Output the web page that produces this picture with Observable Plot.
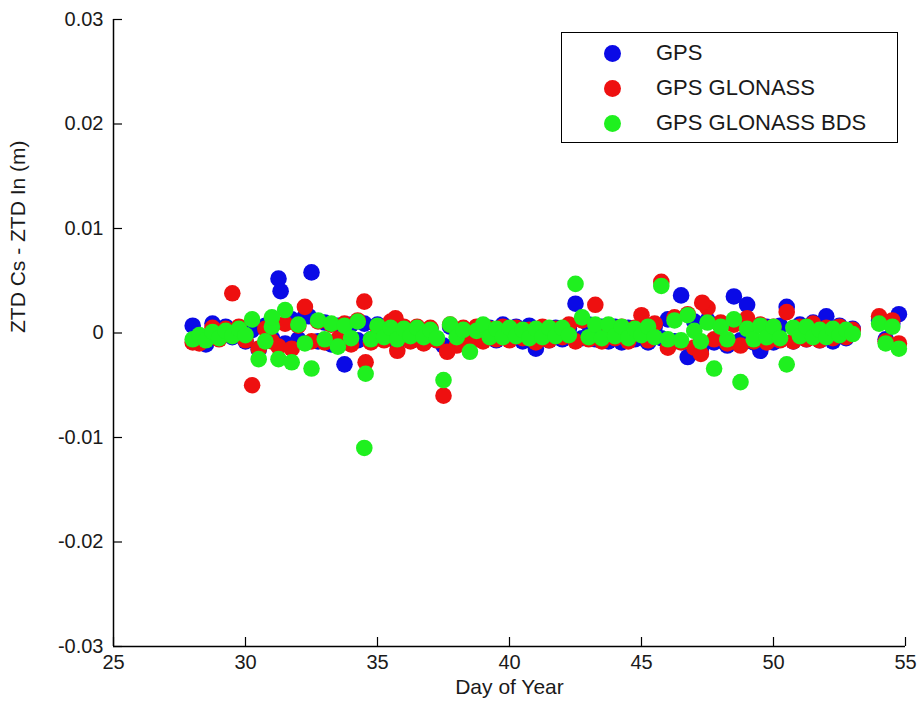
<!DOCTYPE html>
<html>
<head>
<meta charset="utf-8">
<script src="https://cdn.jsdelivr.net/npm/d3@7"></script>
<script src="https://cdn.jsdelivr.net/npm/@observablehq/plot@0.6"></script>
<style>
  html, body { margin: 0; padding: 0; background: #fff; }
  #wrap { position: relative; width: 919px; height: 712px; font-family: "Liberation Sans", Arial, sans-serif; }
  #legend { position: absolute; left: 561px; top: 32px; width: 335px; height: 109px; border: 1.5px solid #000; background: #fff; }
  .item { position: absolute; left: 0; height: 30px; display: flex; align-items: center; font-size: 22px; color: #1a1a1a; }
  .sw { position: absolute; left: 42px; width: 17px; height: 17px; border-radius: 50%; }
  .lab { position: absolute; left: 94px; white-space: nowrap; }
</style>
</head>
<body>
<div id="wrap"></div>
<script>
// ---- data (values in mm, converted to metres for plotting) ----
const days = [28,28.25,28.5,28.75,29,29.25,29.5,29.75,30,30.25,30.5,30.75,31,31.25,31.5,31.75,32,32.25,32.5,32.75,33,33.25,33.5,33.75,34,34.25,34.5,34.75,35,35.25,35.5,35.75,36,36.25,36.5,36.75,37,37.25,37.5,37.75,38,38.25,38.5,38.75,39,39.25,39.5,39.75,40,40.25,40.5,40.75,41,41.25,41.5,41.75,42,42.25,42.5,42.75,43,43.25,43.5,43.75,44,44.25,44.5,44.75,45,45.25,45.5,45.75,46,46.25,46.5,46.75,47,47.25,47.5,47.75,48,48.25,48.5,48.75,49,49.25,49.5,49.75,50,50.25,50.5,50.75,51,51.25,51.5,51.75,52,52.25,52.5,52.75,53,54,54.25,54.5,54.75];

const gpsMM = [0.7,-0.8,-1.1,0.9,-0.5,0.6,-0.4,0.5,-0.8,0.3,-1.6,0.7,-0.5,5.2,-1.0,1.3,-0.6,1.6,5.8,-0.8,1.0,-1.1,0.7,-3.0,0.8,-0.7,0.9,-0.6,0.8,-0.6,0.6,-0.9,0.5,-0.6,0.5,-0.8,0.4,-0.7,-1.2,0.6,-0.8,0.4,-0.6,0.5,-0.6,0.5,-0.7,0.8,-0.6,0.6,-0.8,0.7,-1.5,0.5,-0.7,0.5,-0.6,0.4,2.8,-0.5,0.8,-0.6,0.6,-0.8,0.6,-0.9,0.5,-0.6,0.8,-0.9,0.6,-0.5,1.3,-0.8,3.6,-2.3,1.1,-1.6,1.2,-0.9,0.9,-1.2,3.5,-0.7,2.7,-0.9,-1.7,0.6,-0.9,0.7,2.5,-0.8,0.8,-0.6,1.0,-0.7,1.6,-0.8,0.7,-0.5,0.4,1.2,-0.6,0.9,1.8];

const gloMM = [-0.9,-1.0,-0.4,0.5,-0.6,0.4,3.8,0.6,-0.7,-5.0,-1.5,0.4,-0.8,-1.3,0.9,-1.5,0.7,2.5,-0.8,1.1,-0.9,0.8,-0.6,0.9,-1.1,1.2,3.0,-0.9,0.6,-0.7,1.1,-1.7,0.6,-0.8,0.6,-1.0,0.5,-0.7,-6.0,0.8,-1.2,0.5,-0.9,0.6,-0.8,0.4,-0.6,0.6,-0.7,0.5,-0.5,0.3,-0.9,0.6,-0.7,0.4,-0.4,0.8,-0.8,1.2,-0.6,2.7,-0.8,0.7,-0.5,0.6,-0.8,0.5,1.7,-0.7,0.9,4.9,-1.4,1.5,-0.9,1.8,-1.4,-2.0,2.4,-0.6,1.0,-1.0,0.8,-1.2,1.4,-0.8,0.8,-0.9,0.6,-0.7,2.0,-0.8,0.6,-0.6,0.9,-0.7,0.5,-0.5,0.6,-0.4,0.3,1.6,-0.8,1.2,-1.0];

const bdsMM = [-0.6,-0.2,-0.7,0.1,-0.5,0.2,-0.3,0.4,-0.2,1.3,-2.5,-0.8,0.6,-2.5,2.2,-2.8,0.8,-1.0,-3.4,1.2,-0.6,0.9,-1.3,0.7,-0.5,1.1,-11.0,-0.6,0.7,-0.4,0.5,-0.6,0.4,-0.3,0.5,-0.4,0.3,-0.5,-4.5,0.8,-0.4,0.3,-1.8,0.2,0.8,-0.4,0.4,-0.4,0.5,-0.3,0.3,-0.5,0.4,-0.4,0.5,-0.3,0.5,-0.2,4.7,1.5,-0.4,0.8,-0.5,0.8,-0.3,0.6,-0.5,0.4,-0.2,0.6,-0.4,4.5,-0.6,1.2,-0.7,1.7,0.2,-0.8,1.0,-3.4,0.6,-0.6,1.3,-4.7,0.4,-0.6,0.7,-0.4,0.6,-0.5,-3.0,0.5,-0.3,0.6,-0.4,0.3,-0.4,0.4,-0.2,0.3,-0.1,0.9,-1.0,0.6,-1.5];

// extra readings that do not fall on the grid above
const gpsExtraDays = [31.33, 32.4];
const gpsExtraMM   = [4.0, 1.6];
const gloExtraDays = [34.55, 35.68, 37.64, 47.3];
const gloExtraMM   = [-2.8, 1.4, -1.8, 2.9];
const bdsExtraDays = [34.55, 31.0];
const bdsExtraMM   = [-3.9, 1.5];

const seriesNames = ["GPS", "GPS GLONASS", "GPS GLONASS BDS"];
const seriesColors = ["#0a0ae6", "#ee1010", "#1ff01f"];
const xTicks = [25, 30, 35, 40, 45, 50, 55];
const yTicks = [-0.03, -0.02, -0.01, 0, 0.01, 0.02, 0.03];

function build(dArr, vArr, exD, exV) {
  const rows = dArr.map((d, i) => ({day: d, ztd: vArr[i] / 1000}));
  exD.forEach((d, i) => rows.push({day: d, ztd: exV[i] / 1000}));
  return rows;
}
const gps = build(days, gpsMM, gpsExtraDays, gpsExtraMM);
const glo = build(days, gloMM, gloExtraDays, gloExtraMM);
const bds = build(days, bdsMM, bdsExtraDays, bdsExtraMM);

const W = 919, H = 712, ML = 113, MR = 14, MT = 19, MB = 66;
const TICK = 9;
const R = 8.3;

const chart = Plot.plot({
  width: W, height: H,
  marginLeft: ML, marginRight: MR, marginTop: MT, marginBottom: MB,
  style: {background: "#fff", color: "#1a1a1a", fontFamily: "Liberation Sans, Arial, sans-serif"},
  x: {domain: [25, 55]},
  y: {domain: [-0.03, 0.03]},
  marks: [
    Plot.dot(gps, {x: "day", y: "ztd", r: R, fill: seriesColors[0], stroke: "none"}),
    Plot.dot(glo, {x: "day", y: "ztd", r: R, fill: seriesColors[1], stroke: "none"}),
    Plot.dot(bds, {x: "day", y: "ztd", r: R, fill: seriesColors[2], stroke: "none"}),
    // axis lines (left and bottom only)
    Plot.ruleX([25], {stroke: "#000", strokeWidth: 1.5}),
    Plot.ruleY([-0.03], {stroke: "#000", strokeWidth: 1.5}),
    // inward ticks
    Plot.ruleX(xTicks, {stroke: "#000", strokeWidth: 1.2, insetTop: H - MT - MB - TICK}),
    Plot.ruleY(yTicks, {stroke: "#000", strokeWidth: 1.2, insetRight: W - ML - MR - TICK}),
    Plot.axisX({ticks: xTicks, tickSize: 0, tickPadding: 8, fontSize: 20, label: null, tickFormat: d => String(d)}),
    Plot.axisY({ticks: yTicks, tickSize: 0, tickPadding: 10, fontSize: 20, label: null,
      tickFormat: d => d === 0 ? "0" : String(+d.toFixed(2))}),
    Plot.text(["Day of Year"], {frameAnchor: "bottom", dy: 47, fontSize: 21, fill: "#1a1a1a"}),
    Plot.text(["ZTD Cs - ZTD In (m)"], {frameAnchor: "left", dx: -95, rotate: -90, fontSize: 21, fill: "#1a1a1a"})
  ]
});

const wrap = document.getElementById("wrap");
wrap.appendChild(chart);

const legend = document.createElement("div");
legend.id = "legend";
seriesNames.forEach((name, i) => {
  const item = document.createElement("div");
  item.className = "item";
  item.style.top = (5 + i * 35) + "px";
  item.style.width = "100%";
  const sw = document.createElement("span");
  sw.className = "sw";
  sw.style.background = seriesColors[i];
  const lab = document.createElement("span");
  lab.className = "lab";
  lab.textContent = name;
  item.appendChild(sw);
  item.appendChild(lab);
  legend.appendChild(item);
});
wrap.appendChild(legend);
</script>
</body>
</html>
